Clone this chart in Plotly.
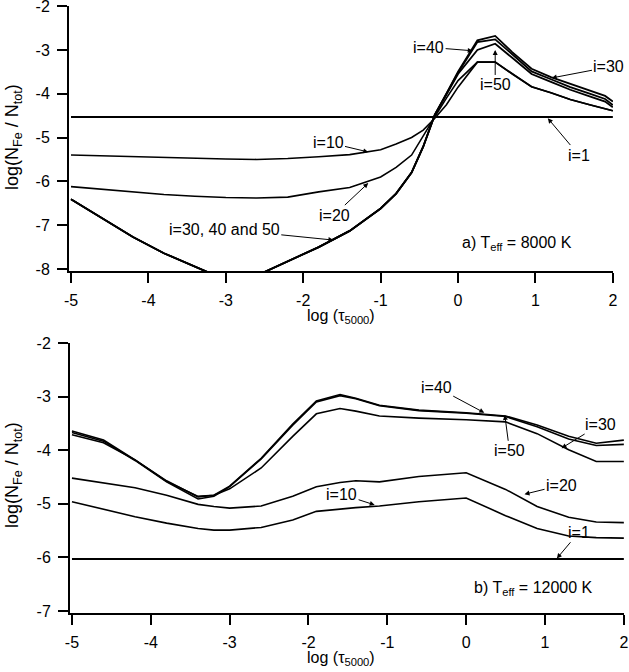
import plotly.graph_objects as go

# log(tau_5000) grids
tau_a = [-5, -4.6, -4.2, -3.8, -3.4, -3.0, -2.6, -2.2, -1.8, -1.4, -1.0, -0.8, -0.6,
         -0.45, -0.3, -0.15, 0, 0.25, 0.48, 0.7, 0.95, 1.2, 1.45, 1.7, 1.9, 2.0]
tau_b = [-5, -4.6, -4.2, -3.8, -3.4, -3.2, -3.0, -2.6, -2.2, -1.9, -1.6, -1.4, -1.1,
         -0.6, 0, 0.5, 0.9, 1.3, 1.65, 2.0]

# panel a) Teff = 8000 K
a_i1 = [-4.53] * len(tau_a)
a_i10 = [-5.40, -5.42, -5.44, -5.46, -5.48, -5.49, -5.50, -5.48, -5.44, -5.39, -5.28, -5.15, -5.00,
         -4.83, -4.56, -4.25, -3.85, -3.28, -3.28, -3.55, -3.84, -3.98, -4.13, -4.25, -4.34, -4.39]
a_i20 = [-6.12, -6.18, -6.25, -6.30, -6.34, -6.37, -6.38, -6.36, -6.24, -6.14, -5.90, -5.68, -5.40,
         -4.98, -4.53, -4.10, -3.70, -3.28, -3.28, -3.55, -3.84, -3.98, -4.13, -4.25, -4.34, -4.39]
a_i30 = [-6.41, -6.84, -7.27, -7.64, -7.95, -8.25, -8.15, -7.83, -7.50, -7.13, -6.62, -6.28, -5.80,
         -5.21, -4.48, -4.00, -3.52, -2.82, -2.76, -3.10, -3.49, -3.67, -3.85, -4.00, -4.12, -4.26]
a_i40 = [-6.41, -6.84, -7.27, -7.64, -7.95, -8.25, -8.15, -7.83, -7.50, -7.13, -6.62, -6.28, -5.80,
         -5.21, -4.48, -4.00, -3.50, -2.78, -2.68, -3.05, -3.43, -3.62, -3.78, -3.93, -4.05, -4.18]
a_i50 = [-6.41, -6.84, -7.27, -7.64, -7.95, -8.25, -8.15, -7.83, -7.50, -7.13, -6.62, -6.28, -5.80,
         -5.21, -4.48, -4.02, -3.55, -3.00, -2.86, -3.18, -3.55, -3.73, -3.91, -4.06, -4.18, -4.31]

# panel b) Teff = 12000 K
b_i1 = [-6.03] * len(tau_b)
b_i10 = [-4.96, -5.10, -5.24, -5.36, -5.46, -5.49, -5.49, -5.44, -5.30, -5.14, -5.09, -5.07, -5.04,
         -4.96, -4.89, -5.22, -5.46, -5.60, -5.63, -5.64]
b_i20 = [-4.52, -4.61, -4.70, -4.84, -5.01, -5.05, -5.08, -5.04, -4.86, -4.68, -4.60, -4.57, -4.59,
         -4.49, -4.42, -4.73, -5.05, -5.25, -5.34, -5.35]
b_i30 = [-3.71, -3.86, -4.18, -4.58, -4.86, -4.84, -4.72, -4.33, -3.74, -3.32, -3.22, -3.27, -3.36,
         -3.40, -3.43, -3.47, -3.69, -3.99, -4.21, -4.21]
b_i40 = [-3.64, -3.81, -4.18, -4.57, -4.87, -4.84, -4.67, -4.15, -3.51, -3.08, -2.96, -3.03, -3.16,
         -3.25, -3.30, -3.36, -3.53, -3.74, -3.87, -3.81]
b_i50 = [-3.67, -3.83, -4.19, -4.59, -4.91, -4.86, -4.68, -4.16, -3.53, -3.10, -2.98, -3.04, -3.17,
         -3.26, -3.31, -3.37, -3.56, -3.79, -3.91, -3.89]

# tick labels (plain hyphen like the original)
x_ticks = [-5, -4, -3, -2, -1, 0, 1, 2]
x_ticktext = ["-5", "-4", "-3", "-2", "-1", "0", "1", "2"]
ya_ticks = [-8, -7, -6, -5, -4, -3, -2]
ya_ticktext = ["-8", "-7", "-6", "-5", "-4", "-3", "-2"]
yb_ticks = [-7, -6, -5, -4, -3, -2]
yb_ticktext = ["-7", "-6", "-5", "-4", "-3", "-2"]

fig = go.Figure()
blk = "black"

def add(x, y, w, ax):
    fig.add_trace(go.Scatter(x=x, y=y, mode="lines", line=dict(color=blk, width=w),
                             xaxis="x" if ax == 1 else "x2", yaxis="y" if ax == 1 else "y2",
                             showlegend=False, hoverinfo="skip"))

add(tau_a, a_i1, 2, 1)
add(tau_a, a_i10, 1.6, 1)
add(tau_a, a_i20, 1.6, 1)
for yy in (a_i30, a_i40, a_i50):
    add(tau_a, yy, 1.8, 1)

add(tau_b, b_i1, 2, 2)
add(tau_b, b_i10, 1.6, 2)
add(tau_b, b_i20, 1.6, 2)
for yy in (b_i30, b_i40, b_i50):
    add(tau_b, yy, 1.6, 2)

fnt = dict(family="Liberation Sans, Arial, sans-serif", size=16, color=blk)
yfnt = dict(fnt, size=18)

axis_common = dict(showgrid=False, zeroline=False, showline=True, linecolor=blk, linewidth=2,
                   ticks="outside", ticklen=10, tickwidth=2, tickcolor=blk, tickfont=fnt,
                   tickmode="array", automargin=False, ticklabeloverflow="allow")

# annotations: (text, text x, text y, tip x, tip y, panel)
labels = [
    ("i=40", -0.38, -2.94, 0.19, -3.02, 1),
    ("i=50", 0.48, -3.80, 0.48, -3.00, 1),
    ("i=30", 1.95, -3.39, 1.21, -3.64, 1),
    ("i=1", 1.56, -5.40, 1.16, -4.56, 1),
    ("i=10", -1.68, -5.11, -1.16, -5.33, 1),
    ("i=20", -1.60, -6.77, -1.16, -6.04, 1),
    ("i=30, 40 and 50", -3.02, -7.09, -1.61, -7.34, 1),
    ("i=40", -0.38, -2.82, 0.23, -3.30, 2),
    ("i=50", 0.55, -4.01, 0.49, -3.34, 2),
    ("i=30", 1.71, -3.51, 1.21, -3.96, 2),
    ("i=20", 1.21, -4.65, 0.74, -4.82, 2),
    ("i=10", -1.58, -4.82, -1.16, -5.02, 2),
    ("i=1", 1.43, -5.53, 1.15, -6.02, 2),
]
annotations = []
for txt, tx, ty, px, py, p in labels:
    xr = "x" if p == 1 else "x2"
    yr = "y" if p == 1 else "y2"
    annotations.append(dict(text=txt, x=px, y=py, ax=tx, ay=ty, xref=xr, yref=yr,
                            axref=xr, ayref=yr, showarrow=True, arrowhead=2, arrowsize=1,
                            arrowwidth=1, arrowcolor=blk, font=fnt, standoff=0))

annotations.append(dict(text="a) T<sub>eff</sub> = 8000 K", x=0.76, y=-7.41, xref="x", yref="y",
                        showarrow=False, font=fnt))
annotations.append(dict(text="b) T<sub>eff</sub> = 12000 K", x=0.86, y=-6.58, xref="x2", yref="y2",
                        showarrow=False, font=fnt))

ytitle = "log(N<sub>Fe</sub> / N<sub>tot</sub>)"
xtitle = "log (τ<sub>5000</sub>)"
for txt, px, py, f, ang in [(ytitle, 13, 137, yfnt, -90), (ytitle, 13, 475, yfnt, -90),
                            (xtitle, 341, 316, fnt, 0), (xtitle, 341, 658, fnt, 0)]:
    annotations.append(dict(text=txt, x=px / 629, y=1 - py / 672, xref="paper", yref="paper",
                            xanchor="center", yanchor="middle", textangle=ang,
                            showarrow=False, font=f))

fig.update_layout(
    width=629, height=672, margin=dict(l=0, r=0, t=0, b=0, autoexpand=False),
    plot_bgcolor="white", paper_bgcolor="white", font=fnt,
    xaxis=dict(axis_common, domain=[69 / 629, 613 / 629], range=[-5.026, 2.002], anchor="y",
               tickvals=x_ticks, ticktext=x_ticktext, ticklabelstandoff=4),
    yaxis=dict(axis_common, domain=[1 - 271 / 672, 1 - 6 / 672], range=[-8.046, -1.998], anchor="x",
               tickvals=ya_ticks, ticktext=ya_ticktext, ticklabelstandoff=4),
    xaxis2=dict(axis_common, domain=[70 / 629, 624 / 629], range=[-5.025, 2.002], anchor="y2",
                tickvals=x_ticks, ticktext=x_ticktext, ticklabelstandoff=4),
    yaxis2=dict(axis_common, domain=[1 - 613 / 672, 1 - 343 / 672], range=[-7.037, -1.998],
                anchor="x2", tickvals=yb_ticks, ticktext=yb_ticktext, ticklabelstandoff=4),
    annotations=annotations,
)

# drop the default page margin so the figure sits at the window's corner
fig.write_html("out.html", config={"displayModeBar": False},
               post_script="document.body.style.margin='0';")
